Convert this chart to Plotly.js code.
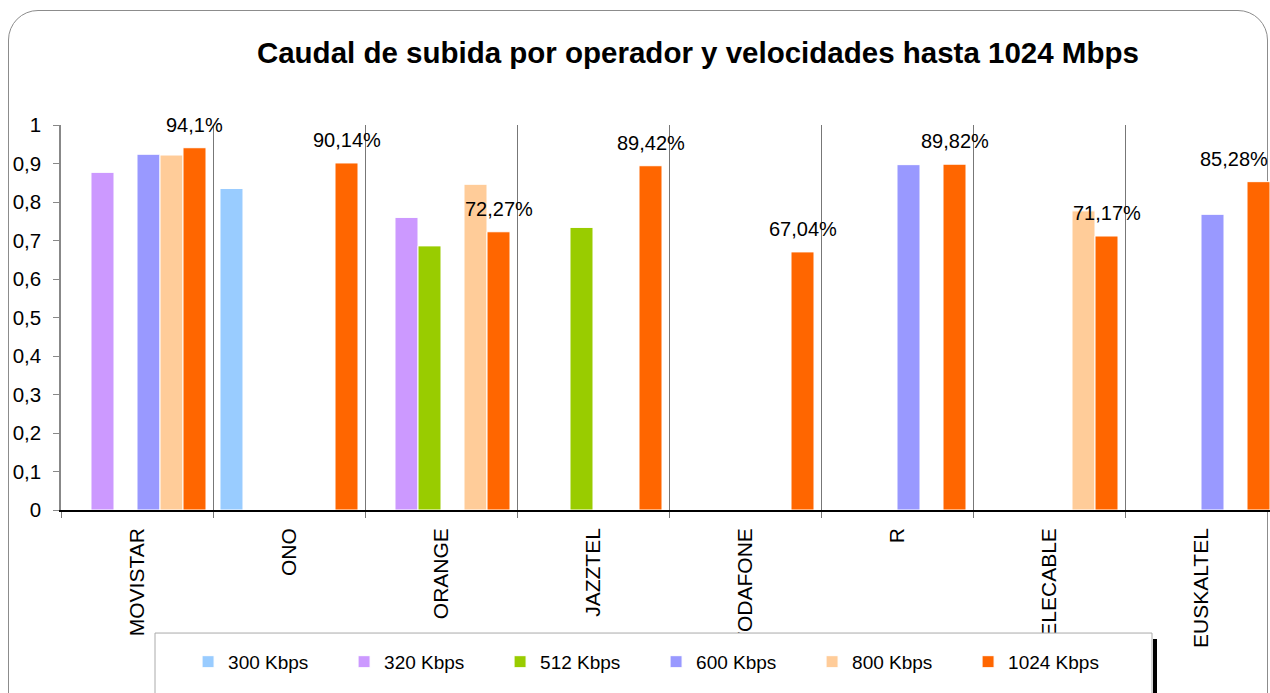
<!DOCTYPE html>
<html>
<head>
<meta charset="utf-8">
<script src="https://cdn.plot.ly/plotly-3.0.1.min.js"></script>
<style>
  html, body { margin: 0; padding: 0; overflow: hidden; background: #fff; }
  #frame { position: absolute; left: 8px; top: 10px; width: 1258px; height: 720px;
           border: 1.5px solid #8c8c8c; border-radius: 30px; }
  #plot { position: absolute; left: 0; top: 0; }
</style>
</head>
<body>
<div id="frame"></div>
<div id="plot"></div>
<script>
var operators = ['MOVISTAR', 'ONO', 'ORANGE', 'JAZZTEL', 'VODAFONE', 'R', 'TELECABLE', 'EUSKALTEL'];

var kbps300  = [null, 0.835, null, null, null, null, null, null];
var kbps320  = [0.877, null, 0.760, null, null, null, null, null];
var kbps512  = [null, null, 0.686, 0.734, null, null, null, null];
var kbps600  = [0.924, null, null, null, null, 0.897, null, 0.768];
var kbps800  = [0.922, null, 0.846, null, null, null, 0.777, null];
var kbps1024 = [0.941, 0.9014, 0.7227, 0.8942, 0.6704, 0.8982, 0.7117, 0.8528];

var font = 'Liberation Sans, Arial, sans-serif';
var bargap = 0.092;
var nSeries = 6;

function pct(v) {
  var s = (v * 100).toFixed(2).replace(/0+$/, '').replace(/\.$/, '');
  return s.replace('.', ',') + '%';
}

function series(name, values, color) {
  return {
    name: name,
    x: operators,
    y: values,
    type: 'bar',
    marker: { color: color, line: { color: '#ffffff', width: 1 } },
    hoverinfo: 'skip'
  };
}

var data = [
  series('300 Kbps', kbps300, '#99CCFF'),
  series('320 Kbps', kbps320, '#CC99FF'),
  series('512 Kbps', kbps512, '#99CC00'),
  series('600 Kbps', kbps600, '#9999FF'),
  series('800 Kbps', kbps800, '#FFCC99'),
  series('1024 Kbps', kbps1024, '#FF6600')
];

// data labels over the last (1024 Kbps) bar of each group
var groupWidth = 1 - bargap;
var lastCentre = groupWidth / 2 - groupWidth / nSeries / 2;
var labels = kbps1024.map(function (v, i) {
  var last = i === operators.length - 1;
  return {
    xref: 'x', yref: 'y',
    x: last ? i + groupWidth / 2 : i + lastCentre,
    xanchor: last ? 'right' : 'center',
    y: v, yanchor: 'bottom', yshift: 10,
    text: pct(v), showarrow: false,
    font: { family: font, size: 20, color: '#000' }
  };
});

var layout = {
  width: 1290,
  height: 693,
  margin: { l: 61, r: 13, t: 125, b: 180 },
  paper_bgcolor: 'rgba(0,0,0,0)',
  plot_bgcolor: 'rgba(0,0,0,0)',
  font: { family: font, color: '#000' },
  separators: ', ',
  title: {
    text: '<b>Caudal de subida por operador y velocidades hasta 1024 Mbps</b>',
    font: { family: font, size: 29.5, color: '#000' },
    x: 0.541, xanchor: 'center',
    y: 0.9235, yanchor: 'middle'
  },
  barmode: 'group',
  bargap: bargap,
  bargroupgap: 0,
  showlegend: true,
  legend: {
    orientation: 'h',
    x: 0.1045, xanchor: 'left',
    y: -0.345, yanchor: 'top',
    bgcolor: 'rgba(0,0,0,0)',
    borderwidth: 0,
    font: { family: font, size: 19, color: '#000' },
    entrywidth: 111,
    entrywidthmode: 'pixels',
    traceorder: 'normal'
  },
  xaxis: {
    type: 'category',
    tickson: 'boundaries',
    showgrid: true,
    gridcolor: '#777',
    gridwidth: 1,
    showline: true,
    linecolor: '#000',
    linewidth: 1.5,
    ticks: 'outside',
    ticklen: 6,
    tickcolor: '#777',
    tickangle: -90,
    ticklabelstandoff: 8,
    tickfont: { family: font, size: 21, color: '#000' },
    zeroline: false
  },
  yaxis: {
    range: [0, 1],
    dtick: 0.1,
    showgrid: false,
    zeroline: false,
    showline: true,
    linecolor: '#888',
    linewidth: 1.5,
    ticks: 'outside',
    ticklen: 6,
    tickcolor: '#888',
    ticklabelstandoff: 8,
    tickfont: { family: font, size: 20.5, color: '#000' }
  },
  annotations: labels,
  shapes: [
    { type: 'rect', xref: 'paper', yref: 'paper', layer: 'above',
      x0: (155 - 61) / 1216, x1: (1152 - 61) / 1216,
      y0: -(637 - 513) / 388, y1: -(720 - 513) / 388,
      fillcolor: '#fff', line: { color: '#aaa', width: 1 } },
    { type: 'line', xref: 'paper', yref: 'paper', layer: 'above',
      x0: (1155 - 61) / 1216, x1: (1155 - 61) / 1216,
      y0: -(643 - 513) / 388, y1: -(720 - 513) / 388,
      line: { color: '#000', width: 4 } }
  ]
};

Plotly.newPlot('plot', data, layout, { displayModeBar: false });
</script>
</body>
</html>
